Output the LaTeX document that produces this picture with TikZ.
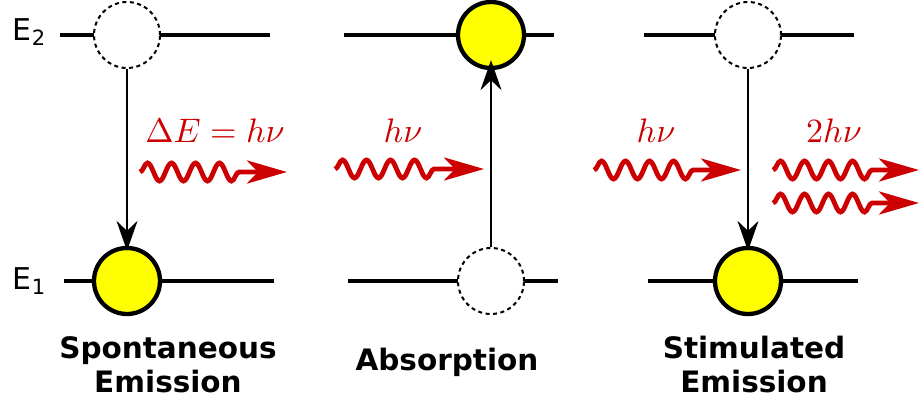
\documentclass[tikz,border=0pt]{standalone}
\usepackage{fontspec}
\setmainfont{DejaVu Sans}
\usetikzlibrary{arrows.meta,decorations.pathmorphing}
\definecolor{photon}{RGB}{204,0,0}
\definecolor{atom}{RGB}{255,255,0}
\newcommand{\bigmath}[1]{\scalebox{3.4}{$#1$}}
\tikzset{
  level/.style={line width=4.5pt},
  full/.style={circle,draw=black,line width=4.3pt,fill=atom,minimum size=66pt,inner sep=0pt},
  empty/.style={circle,draw=black,dash pattern=on 4pt off 3.5pt,line width=2pt,fill=white,minimum size=66pt,inner sep=0pt},
  trans/.style={line width=1.8pt,-{Stealth[length=30pt,width=21pt,inset=10pt]}},
  wavy/.style={draw=photon,line width=4.8pt,decorate,decoration={snake,amplitude=9pt,segment length=24pt,post length=44pt},-{Stealth[length=40pt,width=23pt,inset=11pt]}},
  ptext/.style={text=photon,inner sep=0pt},
  title/.style={font=\fontsize{29.5}{34}\selectfont\bfseries,align=center},
  elabel/.style={font=\fontsize{30}{34}\selectfont}
}
\begin{document}
\begin{tikzpicture}[x=1pt,y=-1pt]
\useasboundingbox (0,0) rectangle (919,404);
% levels
\draw[level] (60,35) -- (270,35);
\draw[level] (64,281) -- (274,281);
\draw[level] (344,35) -- (554,35);
\draw[level] (348,281) -- (558,281);
\draw[level] (644,35) -- (854,35);
\draw[level] (648,281) -- (858,281);
% atoms
\node[empty] (a2) at (127,35) {};
\node[full] (a1) at (127,281) {};
\node[full] (b2) at (491,35) {};
\node[empty] (b1) at (491,281) {};
\node[empty] (c2) at (748,35) {};
\node[full] (c1) at (748,281) {};
% labels
\node[elabel] (e2) at (29,32) {E\raisebox{-0.28ex}{\fontsize{21}{21}\selectfont 2}};
\node[elabel] (e1) at (29,281) {E\raisebox{-0.28ex}{\fontsize{21}{21}\selectfont 1}};
% transitions
\draw[trans,shorten >=-5pt] (a2.south) -- (a1.north);
\draw[trans,shorten >=-10pt] (b1.north) -- (b2.south);
\draw[trans,shorten >=-5pt] (c2.south) -- (c1.north);
% photons
\coordinate (p1s) at (140,172); \coordinate (p1e) at (287,172);
\coordinate (p2s) at (335,169); \coordinate (p2e) at (484,169);
\coordinate (p3s) at (594,170); \coordinate (p3e) at (741,170);
\coordinate (p4s) at (773,170); \coordinate (p4e) at (919,170);
\coordinate (p5s) at (773,203); \coordinate (p5e) at (919,203);
\draw[wavy] (p1s) -- (p1e);
\draw[wavy] (p2s) -- (p2e);
\draw[wavy] (p3s) -- (p3e);
\draw[wavy] (p4s) -- (p4e);
\draw[wavy] (p5s) -- (p5e);
\node[ptext] (l1) at (215,131) {\bigmath{\Delta E = h\nu}};
\node[ptext] (l2) at (403,131) {\bigmath{h\nu}};
\node[ptext] (l3) at (656,131) {\bigmath{h\nu}};
\node[ptext] (l4) at (834,131) {\bigmath{2h\nu}};
% titles
\node[title] (t1) at (168,365) {Spontaneous\\Emission};
\node[title] (t2) at (447,362) {Absorption};
\node[title] (t3) at (754,365) {Stimulated\\Emission};
\end{tikzpicture}
\end{document}
